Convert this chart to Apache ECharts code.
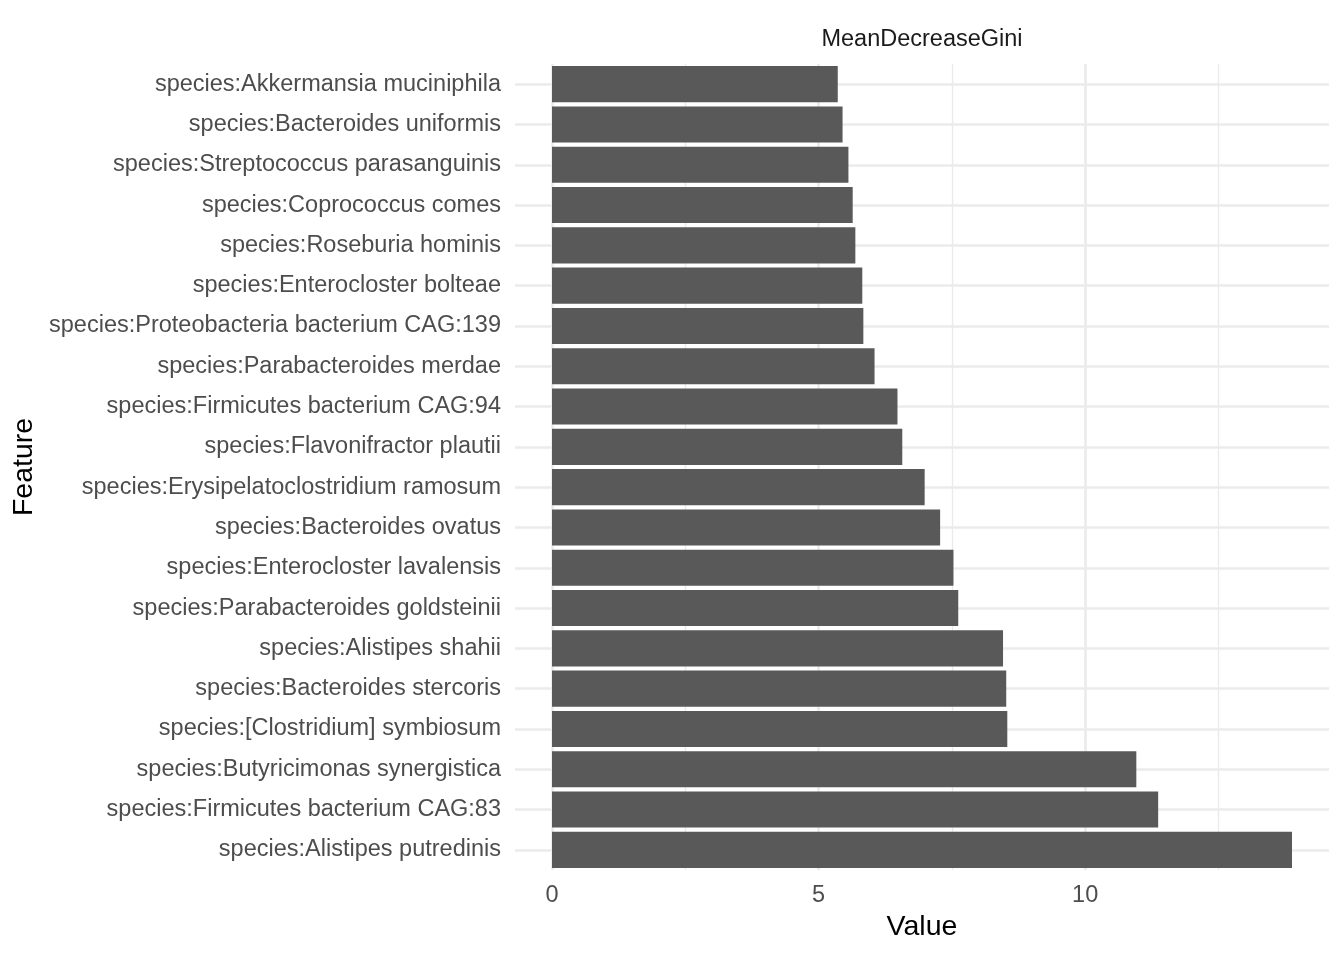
<!DOCTYPE html>
<html>
<head>
<meta charset="utf-8">
<script src="https://cdn.jsdelivr.net/npm/echarts@6/dist/echarts.min.js"></script>
<style>html,body{margin:0;padding:0;background:#fff}#c{width:1344px;height:960px}</style>
</head>
<body>
<div id="c"></div>
<script>
const categories = [
  "species:Akkermansia muciniphila",
  "species:Bacteroides uniformis",
  "species:Streptococcus parasanguinis",
  "species:Coprococcus comes",
  "species:Roseburia hominis",
  "species:Enterocloster bolteae",
  "species:Proteobacteria bacterium CAG:139",
  "species:Parabacteroides merdae",
  "species:Firmicutes bacterium CAG:94",
  "species:Flavonifractor plautii",
  "species:Erysipelatoclostridium ramosum",
  "species:Bacteroides ovatus",
  "species:Enterocloster lavalensis",
  "species:Parabacteroides goldsteinii",
  "species:Alistipes shahii",
  "species:Bacteroides stercoris",
  "species:[Clostridium] symbiosum",
  "species:Butyricimonas synergistica",
  "species:Firmicutes bacterium CAG:83",
  "species:Alistipes putredinis"
];
const values = [5.36, 5.45, 5.56, 5.64, 5.69, 5.82, 5.84, 6.05, 6.48, 6.57,
                6.99, 7.28, 7.53, 7.62, 8.46, 8.52, 8.54, 10.96, 11.37, 13.88];
const xTickLabels = [0, 5, 10];
const xMajorGrid = [0, 5, 10];
const xMinorGrid = [2.5, 7.5, 12.5];
const facetLabel = "MeanDecreaseGini";

const FONT = "Liberation Sans, Arial, sans-serif";
const chart = echarts.init(document.getElementById('c'), null, {renderer: 'canvas'});

const maxV = Math.max(...values);
const pad = maxV * 0.05;

const lineData = [];
xMajorGrid.forEach(v => lineData.push({xAxis: v, lineStyle: {width: 2.7}}));
xMinorGrid.forEach(v => lineData.push({xAxis: v, lineStyle: {width: 1.4}}));
categories.forEach(c => lineData.push({yAxis: c, lineStyle: {width: 2.7}}));

chart.setOption({
  animation: false,
  backgroundColor: '#ffffff',
  title: {
    text: facetLabel,
    left: 917, top: 23,
    textAlign: 'center',
    textStyle: {fontFamily: FONT, fontSize: 23.5, fontWeight: 'normal', color: '#1a1a1a'}
  },
  grid: {left: 515, right: 15, top: 64, bottom: 90},
  xAxis: {
    type: 'value',
    min: -pad, max: maxV + pad,
    axisLine: {show: false},
    axisTick: {show: false},
    splitLine: {show: false},
    axisLabel: {
      customValues: xTickLabels,
      fontFamily: FONT, fontSize: 23.5, color: '#4d4d4d', margin: 14
    },
    name: 'Value',
    nameLocation: 'middle',
    nameGap: 42,
    nameTextStyle: {fontFamily: FONT, fontSize: 28.5, color: '#000000'}
  },
  yAxis: {
    type: 'category',
    data: categories,
    inverse: true,
    axisLine: {show: false},
    axisTick: {show: false},
    splitLine: {show: false},
    axisLabel: {fontFamily: FONT, fontSize: 23.5, color: '#4d4d4d', margin: 14},
    name: 'Feature',
    nameLocation: 'middle',
    nameRotate: 90,
    nameGap: 475,
    nameTextStyle: {fontFamily: FONT, fontSize: 28.5, color: '#000000'}
  },
  series: [
    {
      type: 'line',
      data: [],
      z: 0,
      silent: true,
      markLine: {
        silent: true,
        symbol: ['none', 'none'],
        label: {show: false},
        lineStyle: {color: '#ebebeb', type: 'solid'},
        emphasis: {disabled: true},
        data: lineData
      }
    },
    {
      type: 'bar',
      data: values,
      z: 5,
      barCategoryGap: '10.5%',
      itemStyle: {color: '#595959'},
      silent: true
    }
  ]
});
</script>
</body>
</html>
